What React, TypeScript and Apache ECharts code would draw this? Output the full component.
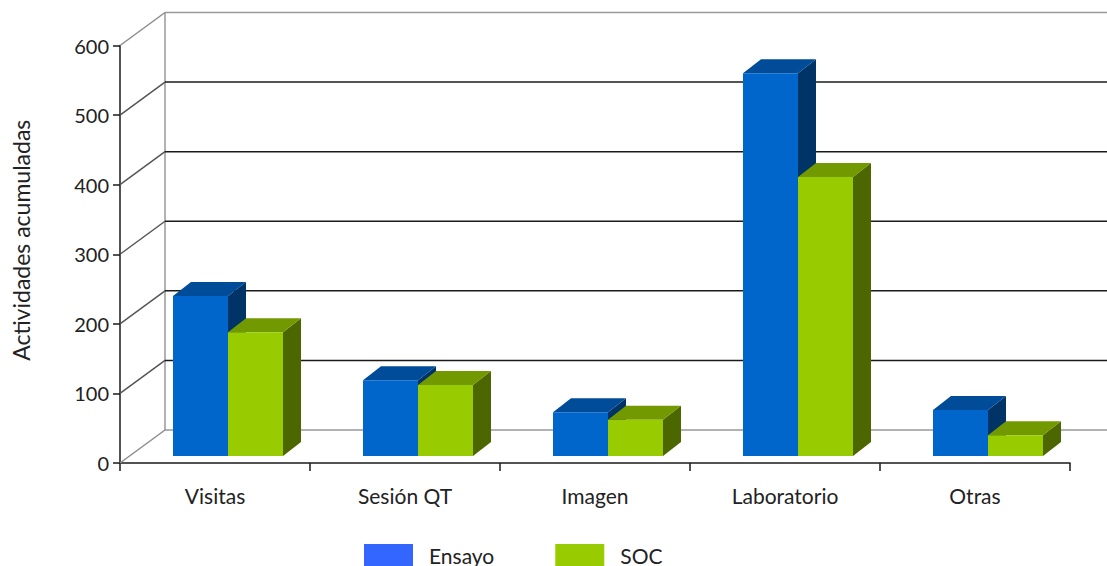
import React, { useEffect, useRef } from "react";
import * as echarts from "echarts";

const categories = ["Visitas", "Sesión QT", "Imagen", "Laboratorio", "Otras"];
const ensayoValues = [230, 109, 63, 550, 66];
const socValues = [178, 102, 52, 401, 30];
const gridTicks = [0, 100, 200, 300, 400, 500, 600];

const WALL_DX = 45;
const WALL_DY = 33;
const FLOOR_LIFT = 7;
const BAR_DEPTH_X = 18;
const BAR_DEPTH_Y = 14;
const BAR_WIDTH = 55;
const SEAM_OFFSET = 13;

const FONT = "Lato, sans-serif";
const TEXT = "#222222";

// Front, top and side shades for the extruded columns.
const ENSAYO_SHADES = { front: "#0066cc", top: "#004c99", side: "#003366" };
const SOC_SHADES = { front: "#99cc00", top: "#739900", side: "#4c6600" };

const barRenderer = (shades: typeof ENSAYO_SHADES, isLeft: boolean) =>
  (_params: any, api: any) => {
    const catIndex = api.value(0);
    const [cx, yTopRaw] = api.coord([catIndex, api.value(1)]);
    const [, yBaseRaw] = api.coord([catIndex, 0]);
    const seam = cx + SEAM_OFFSET;
    const x0 = isLeft ? seam - BAR_WIDTH : seam;
    const x1 = x0 + BAR_WIDTH;
    const yTop = yTopRaw - FLOOR_LIFT;
    const yBase = yBaseRaw - FLOOR_LIFT;
    const dx = BAR_DEPTH_X;
    const dy = BAR_DEPTH_Y;
    return {
      type: "group",
      children: [
        {
          type: "polygon",
          shape: { points: [[x1, yTop], [x1 + dx, yTop - dy], [x1 + dx, yBase - dy], [x1, yBase]] },
          style: { fill: shades.side },
        },
        {
          type: "polygon",
          shape: { points: [[x0, yTop], [x0 + dx, yTop - dy], [x1 + dx, yTop - dy], [x1, yTop]] },
          style: { fill: shades.top },
        },
        {
          type: "rect",
          shape: { x: x0, y: yTop, width: BAR_WIDTH, height: yBase - yTop },
          style: { fill: shades.front },
        },
      ],
    };
  };

// Slanted side-wall line, back-wall line and the wall's vertical edge for one tick.
const wallRenderer = (params: any, api: any) => {
  const value = api.value(1);
  const grid = params.coordSys;
  const [, y] = api.coord([0, value]);
  const left = grid.x;
  const right = grid.x + grid.width;
  const isEdge = value === 0 || value === 600;
  const stroke = isEdge ? "#999999" : "#1a1a1a";
  const children: any[] = [
    {
      type: "line",
      shape: { x1: left, y1: y, x2: left + WALL_DX, y2: y - WALL_DY },
      style: { stroke: isEdge ? "#8c8c8c" : "#555555", lineWidth: 1.5 },
    },
    {
      type: "line",
      shape: { x1: left + WALL_DX, y1: y - WALL_DY, x2: right + WALL_DX, y2: y - WALL_DY },
      style: { stroke, lineWidth: 1.5 },
    },
  ];
  if (value === 0) {
    children.push({
      type: "line",
      shape: { x1: left + WALL_DX, y1: y - WALL_DY, x2: left + WALL_DX, y2: grid.y - WALL_DY },
      style: { stroke: "#999999", lineWidth: 1.5 },
    });
  }
  return { type: "group", children };
};

export default function App() {
  const ref = useRef<HTMLDivElement>(null);

  useEffect(() => {
    const chart = echarts.init(ref.current!, undefined, { renderer: "svg" });
    chart.setOption({
      animation: false,
      backgroundColor: "#ffffff",
      grid: { left: 120, top: 45.5, width: 950, height: 417.5, outerBoundsMode: "none" },
      legend: {
        data: ["Ensayo", "SOC"],
        left: 364,
        top: 544,
        padding: 0,
        itemWidth: 49,
        itemHeight: 22,
        itemGap: 61,
        icon: "rect",
        textStyle: {
          color: TEXT,
          fontFamily: FONT,
          fontSize: 21,
          padding: [0, 0, 5, 11],
        },
      },
      xAxis: {
        type: "category",
        data: categories,
        axisLine: { lineStyle: { color: "#1a1a1a", width: 1.5 } },
        axisTick: { show: true, length: 8, lineStyle: { color: "#1a1a1a", width: 1.5 } },
        axisLabel: { color: TEXT, fontFamily: FONT, fontSize: 21, margin: 22 },
        splitLine: { show: false },
      },
      yAxis: {
        type: "value",
        min: 0,
        max: 600,
        interval: 100,
        name: "Actividades acumuladas",
        nameLocation: "middle",
        nameRotate: 90,
        nameGap: 88,
        nameTextStyle: { color: TEXT, fontFamily: FONT, fontSize: 23, padding: [0, 0, 0, 28] },
        axisLine: { show: true, lineStyle: { color: "#1a1a1a", width: 1.5 } },
        axisTick: { show: true, length: 7, lineStyle: { color: "#1a1a1a", width: 1.5 } },
        axisLabel: { color: TEXT, fontFamily: FONT, fontSize: 20, margin: 11, padding: [5, 0, 0, 0] },
        splitLine: { show: false },
      },
      series: [
        {
          type: "custom",
          name: "walls",
          renderItem: wallRenderer,
          clip: false,
          silent: true,
          z: 1,
          encode: { x: 0, y: 1 },
          data: gridTicks.map((t) => [0, t]),
        },
        {
          type: "custom",
          name: "Ensayo",
          renderItem: barRenderer(ENSAYO_SHADES, true),
          clip: false,
          z: 2,
          itemStyle: { color: "#3366ff" },
          encode: { x: 0, y: 1 },
          data: ensayoValues.map((v, i) => [i, v]),
        },
        {
          type: "custom",
          name: "SOC",
          renderItem: barRenderer(SOC_SHADES, false),
          clip: false,
          z: 3,
          itemStyle: { color: "#99cc00" },
          encode: { x: 0, y: 1 },
          data: socValues.map((v, i) => [i, v]),
        },
      ],
    });
    return () => chart.dispose();
  }, []);

  return (
    <div
      ref={ref}
      style={{ position: "fixed", left: 0, top: 0, width: 1107, height: 566 }}
    />
  );
}
